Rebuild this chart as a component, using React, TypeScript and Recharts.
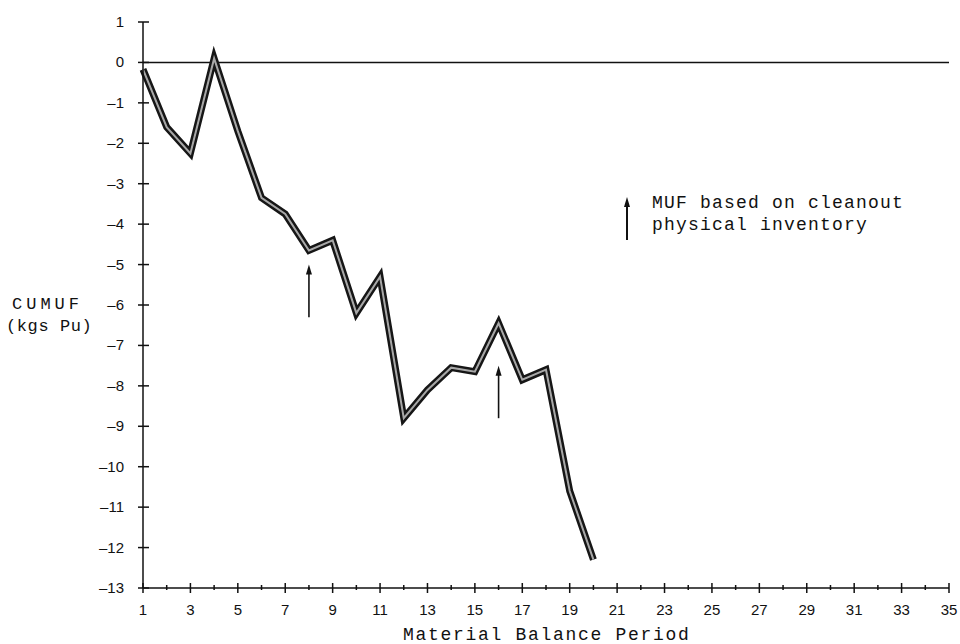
import {
	LineChart,
	Line,
	XAxis,
	YAxis,
	ReferenceLine
} from 'recharts';

const periods = [1, 2, 3, 4, 5, 6, 7, 8, 9, 10, 11, 12, 13, 14, 15, 16, 17, 18, 19, 20];
const cumuf = [
	-0.17, -1.6, -2.25, 0.1, -1.7, -3.35, -3.75, -4.65, -4.4, -6.2,
	-5.3, -8.8, -8.1, -7.55, -7.65, -6.45, -7.85, -7.6, -10.6, -12.3
];

const xTicks = Array.from({ length: 35 }, (_, i) => i + 1);
const yTicks = [1, 0, -1, -2, -3, -4, -5, -6, -7, -8, -9, -10, -11, -12, -13];

// cleanout inventory markers: period, arrow tail, arrow tip
const arrowPeriods = [8, 16];
const arrowTails = [-6.3, -8.8];
const arrowTips = [-5.0, -7.5];

const data = periods.map((p, i) => ({ period: p, cumuf: cumuf[i] }));

const mono = '"Liberation Mono", "Courier New", monospace';
const sans = '"Liberation Sans", Arial, sans-serif';

const XTick = (props: any) => {
	const { x, y, payload } = props;
	const major = payload.value % 2 === 1;
	return (
		<g>
			<line x1={x} x2={x} y1={y - (major ? 5 : 3)} y2={y + (major ? 5 : 2)} stroke='#111' strokeWidth={1.5} />
			{major && (
				<text x={x} y={y + 27} textAnchor='middle' fontFamily={sans} fontSize={15} fill='#111'>
					{payload.value}
				</text>
			)}
		</g>
	);
};

const YTick = (props: any) => {
	const { x, y, payload } = props;
	return (
		<g>
			<line x1={x - 5} x2={x + 6} y1={y} y2={y} stroke='#111' strokeWidth={1.5} />
			<text x={x - 19} y={y + 5} textAnchor='end' fontFamily={sans} fontSize={15} fill='#111'>
				{payload.value < 0 ? '\u2013' + Math.abs(payload.value) : payload.value}
			</text>
		</g>
	);
};

const Arrow = (props: any) => {
	const { x1, y1, x2, y2 } = props;
	return (
		<g>
			<line x1={x1} y1={y1} x2={x2} y2={y2 + 6} stroke='#111' strokeWidth={1.6} />
			<polygon points={`${x2},${y2} ${x2 - 3},${y2 + 10} ${x2 + 3},${y2 + 10}`} fill='#111' />
		</g>
	);
};

const App = () => {
	return (
		<div style={{ position: 'absolute', left: 0, top: 0, width: 960, height: 644, background: '#fff' }}>
			<LineChart
				width={960}
				height={644}
				data={data}
				margin={{ top: 22, right: 11, bottom: 26, left: 83 }}
			>
				<XAxis
					dataKey='period'
					type='number'
					domain={[1, 35]}
					ticks={xTicks}
					interval={0}
					height={30}
					tickSize={0}
					tickMargin={0}
					tickLine={false}
					tick={<XTick />}
					stroke='#111'
					strokeWidth={1.5}
				/>
				<YAxis
					type='number'
					domain={[-13, 1]}
					ticks={yTicks}
					interval={0}
					width={60}
					tickSize={0}
					tickMargin={0}
					tickLine={false}
					tick={<YTick />}
					stroke='#111'
					strokeWidth={1.5}
				/>
				<ReferenceLine y={0} stroke='#111' strokeWidth={1.5} />
				{arrowPeriods.map((p, i) => (
					<ReferenceLine
						key={p}
						segment={[
							{ x: p, y: arrowTails[i] },
							{ x: p, y: arrowTips[i] }
						]}
						shape={<Arrow />}
					/>
				))}
				<Line
					dataKey='cumuf'
					stroke='#161616'
					strokeWidth={7}
					strokeLinejoin='miter'
					dot={false}
					isAnimationActive={false}
				/>
				<Line
					dataKey='cumuf'
					stroke='#a8a8a8'
					strokeWidth={2}
					strokeLinejoin='miter'
					dot={false}
					isAnimationActive={false}
				/>
			</LineChart>
			<svg
				width={960}
				height={644}
				style={{ position: 'absolute', left: 0, top: 0, pointerEvents: 'none' }}
			>
				<text x={12} y={309} fontFamily={mono} fontSize={17} fill='#111' letterSpacing={4}>
					CUMUF
				</text>
				<text x={6} y={331} fontFamily={mono} fontSize={17} fill='#111' letterSpacing={0.6}>
					(kgs Pu)
				</text>
				<text x={403} y={640} fontFamily={mono} fontSize={18} fill='#111' letterSpacing={1.7}>
					Material Balance Period
				</text>
				<line x1={627} y1={240} x2={627} y2={204} stroke='#111' strokeWidth={2} />
				<polygon points='627,197 624,207 630,207' fill='#111' />
				<text x={652} y={208} fontFamily={mono} fontSize={18} fill='#111' letterSpacing={1.2}>
					MUF based on cleanout
				</text>
				<text x={652} y={230} fontFamily={mono} fontSize={18} fill='#111' letterSpacing={1.2}>
					physical inventory
				</text>
			</svg>
		</div>
	);
};

export default App;
